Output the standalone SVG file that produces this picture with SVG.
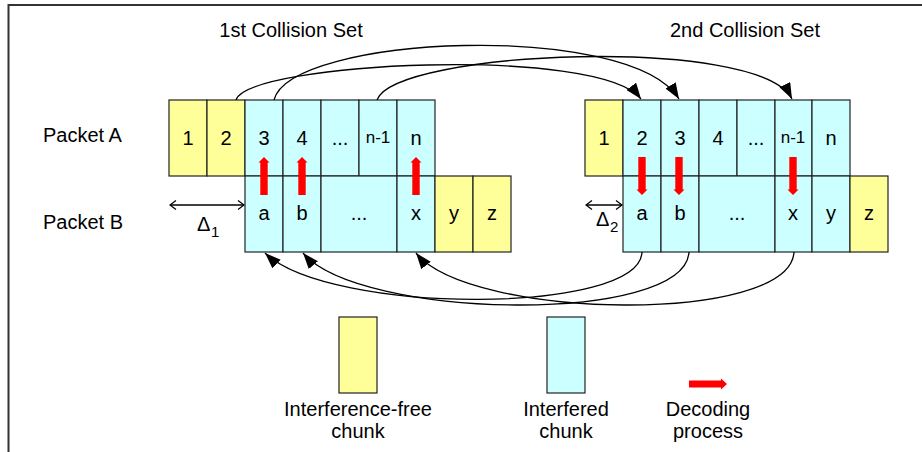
<svg xmlns="http://www.w3.org/2000/svg" width="922" height="452" viewBox="0 0 922 452">
<defs>
<marker id="ah" markerUnits="userSpaceOnUse" markerWidth="17" markerHeight="13" refX="16" refY="6" orient="auto"><path d="M0,0 L16,6 L0,12 z" fill="#000"/></marker>
<marker id="oa" markerUnits="userSpaceOnUse" markerWidth="10" markerHeight="12" refX="7" refY="5" orient="auto-start-reverse"><path d="M1,0.5 L7,5 L1,9.5" fill="none" stroke="#000" stroke-width="1.2"/></marker>
</defs>
<style>
.y{fill:#FFFF99;stroke:#222;stroke-width:1.2}
.c{fill:#CCFFFF;stroke:#222;stroke-width:1.2}
text{font-family:"Liberation Sans",Arial,sans-serif;fill:#000}
.t{font-size:20px}
.l{font-size:20px;text-anchor:middle}
.s{font-size:17px;text-anchor:middle}
.conn{fill:none;stroke:#000;stroke-width:1.3}
.red{fill:#FF0000}
</style>
<path d="M8.5,452 V5 H922" fill="none" stroke="#333" stroke-width="2"/>
<text class="t" x="291" y="37" text-anchor="middle">1st Collision Set</text>
<text class="t" x="745" y="37" text-anchor="middle">2nd Collision Set</text>
<text class="t" x="43" y="142">Packet A</text>
<text class="t" x="43" y="229">Packet B</text>

<g id="set1-packetA">
<rect class="y" x="169" y="100" width="38" height="76"/>
<rect class="y" x="207" y="100" width="38" height="76"/>
<rect class="c" x="245" y="100" width="38" height="76"/>
<rect class="c" x="283" y="100" width="38" height="76"/>
<rect class="c" x="321" y="100" width="38" height="76"/>
<rect class="c" x="359" y="100" width="38" height="76"/>
<rect class="c" x="397" y="100" width="38" height="76"/>
<text class="l" x="188" y="145">1</text>
<text class="l" x="226" y="145">2</text>
<text class="l" x="264" y="145">3</text>
<text class="l" x="302" y="145">4</text>
<text class="l" x="340" y="145">...</text>
<text class="s" x="378" y="143">n-1</text>
<text class="l" x="416" y="145">n</text>
</g>
<g id="set1-packetB">
<rect class="c" x="245" y="176" width="38" height="76"/>
<rect class="c" x="283" y="176" width="38" height="76"/>
<rect class="c" x="321" y="176" width="76" height="76"/>
<rect class="c" x="397" y="176" width="38" height="76"/>
<rect class="y" x="435" y="176" width="38" height="76"/>
<rect class="y" x="473" y="176" width="38" height="76"/>
<text class="l" x="264" y="220">a</text>
<text class="l" x="302" y="220">b</text>
<text class="l" x="359" y="220">...</text>
<text class="l" x="416" y="220">x</text>
<text class="l" x="454" y="220">y</text>
<text class="l" x="492" y="220">z</text>
</g>
<g id="set2-packetA">
<rect class="y" x="585" y="100" width="38" height="76"/>
<rect class="c" x="623" y="100" width="38" height="76"/>
<rect class="c" x="661" y="100" width="38" height="76"/>
<rect class="c" x="699" y="100" width="38" height="76"/>
<rect class="c" x="737" y="100" width="38" height="76"/>
<rect class="c" x="775" y="100" width="37" height="76"/>
<rect class="c" x="812" y="100" width="38" height="76"/>
<text class="l" x="604" y="145">1</text>
<text class="l" x="642" y="145">2</text>
<text class="l" x="680" y="145">3</text>
<text class="l" x="718" y="145">4</text>
<text class="l" x="756" y="145">...</text>
<text class="s" x="793" y="143">n-1</text>
<text class="l" x="831" y="145">n</text>
</g>
<g id="set2-packetB">
<rect class="c" x="623" y="176" width="38" height="76"/>
<rect class="c" x="661" y="176" width="38" height="76"/>
<rect class="c" x="699" y="176" width="76" height="76"/>
<rect class="c" x="775" y="176" width="37" height="76"/>
<rect class="c" x="812" y="176" width="38" height="76"/>
<rect class="y" x="850" y="176" width="38" height="76"/>
<text class="l" x="642" y="220">a</text>
<text class="l" x="680" y="220">b</text>
<text class="l" x="737" y="220">...</text>
<text class="l" x="793" y="220">x</text>
<text class="l" x="831" y="220">y</text>
<text class="l" x="869" y="220">z</text>
</g>

<g id="decoding-arrows">
<path class="red" d="M260.3,195 V162.5 H258.5 L264,157 L269.5,162.5 H267.7 V195 Z"/>
<path class="red" d="M298.3,195 V162.5 H296.5 L302,157 L307.5,162.5 H305.7 V195 Z"/>
<path class="red" d="M412.3,195 V162.5 H410.5 L416,157 L421.5,162.5 H419.7 V195 Z"/>
<path class="red" d="M638.3,157 V189.5 H636.5 L642,195 L647.5,189.5 H645.7 V157 Z"/>
<path class="red" d="M675.3,157 V189.5 H673.5 L679,195 L684.5,189.5 H682.7 V157 Z"/>
<path class="red" d="M789.3,157 V189.5 H787.5 L793,195 L798.5,189.5 H796.7 V157 Z"/>
</g>

<g id="offsets">
<line class="conn" x1="170" y1="205" x2="244" y2="205" marker-start="url(#oa)" marker-end="url(#oa)"/>
<text x="197" y="231" font-size="20">Δ</text><text x="211" y="237" font-size="15">1</text>
<line class="conn" x1="586" y1="205" x2="622" y2="205" marker-start="url(#oa)" marker-end="url(#oa)"/>
<text x="596" y="226" font-size="20">Δ</text><text x="610" y="232" font-size="15">2</text>
</g>

<g id="connectors">
<path class="conn" d="M236,100 C248,62 600,45 641,99" marker-end="url(#ah)"/>
<path class="conn" d="M274,100 C290,35 630,20 679,99" marker-end="url(#ah)"/>
<path class="conn" d="M377,100 C395,50 760,35 792,99" marker-end="url(#ah)"/>
<path class="conn" d="M642,252 C640,315 330,315 265,253" marker-end="url(#ah)"/>
<path class="conn" d="M689,252 C685,325 360,320 303,253" marker-end="url(#ah)"/>
<path class="conn" d="M794,252 C790,325 470,320 416,253" marker-end="url(#ah)"/>
</g>

<g id="legend">
<rect class="y" x="339" y="317" width="38" height="76"/>
<text class="t" x="358" y="416" text-anchor="middle">Interference-free</text>
<text class="t" x="358" y="438" text-anchor="middle">chunk</text>
<rect class="c" x="547" y="317" width="38" height="76"/>
<text class="t" x="566" y="416" text-anchor="middle">Interfered</text>
<text class="t" x="566" y="438" text-anchor="middle">chunk</text>
<path class="red" d="M689,380.5 H721 V378.5 L727,384 L721,389.5 V387.5 H689 Z"/>
<text class="t" x="708" y="416" text-anchor="middle">Decoding</text>
<text class="t" x="708" y="438" text-anchor="middle">process</text>
</g>
</svg>
